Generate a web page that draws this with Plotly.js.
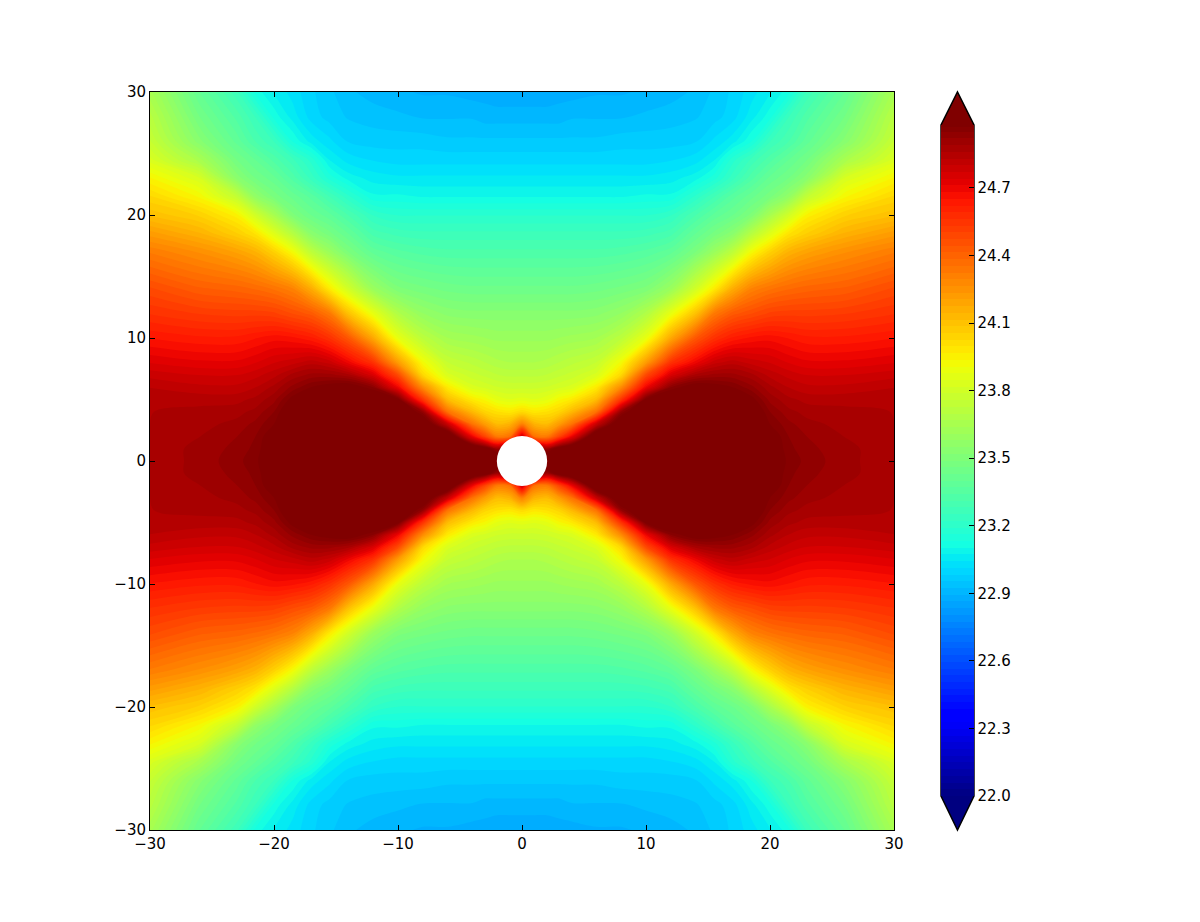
<!DOCTYPE html>
<html><head><meta charset="utf-8"><script src="https://cdn.plot.ly/plotly-3.0.0.min.js"></script>
<style>html,body{margin:0;padding:0;background:#fff}</style></head><body><div id="c" style="width:1200px;height:922px"></div>
<script>
const xVals=[-30,-26,-23,-21.5,-20,-18.5,-17,-15.5,-14,-12,-10,-8,-6,-4,-3,-2,-1,0,1,2,3,4,6,8,10,12,14,15.5,17,18.5,20,21.5,23,26,30];
const yVals=[-30,-28,-26,-24.5,-23,-21.5,-20,-18.5,-17,-14,-12,-10,-8,-7,-6,-5,-4,-3,-2,-1,0,1,2,3,4,5,6,7,8,10,12,14,17,18.5,20,21.5,23,24.5,26,28,30];
const zVals=[
[23.65,23.4,23.26,23.12,23.07,23.03,22.99,22.96,22.93,22.91,22.9,22.89,22.89,22.88,22.88,22.87,22.87,22.87,22.87,22.87,22.88,22.88,22.89,22.89,22.9,22.91,22.93,22.96,22.99,23.03,23.07,23.12,23.26,23.4,23.65],
[23.71,23.46,23.33,23.25,23.12,23.06,23.0,22.97,22.95,22.94,22.93,22.92,22.92,22.92,22.91,22.91,22.91,22.91,22.91,22.91,22.91,22.92,22.92,22.92,22.93,22.94,22.95,22.97,23.0,23.06,23.12,23.25,23.33,23.46,23.71],
[23.76,23.53,23.39,23.31,23.25,23.13,23.06,23.02,22.98,22.97,22.97,22.97,22.96,22.96,22.96,22.96,22.96,22.96,22.96,22.96,22.96,22.96,22.96,22.97,22.97,22.97,22.98,23.02,23.06,23.13,23.25,23.31,23.39,23.53,23.76],
[23.83,23.65,23.46,23.4,23.33,23.26,23.18,23.07,23.03,23.01,23.0,23.0,23.0,23.0,23.0,23.0,23.0,23.0,23.0,23.0,23.0,23.0,23.0,23.0,23.0,23.01,23.03,23.07,23.18,23.26,23.33,23.4,23.46,23.65,23.83],
[23.94,23.82,23.54,23.46,23.41,23.33,23.24,23.15,23.09,23.06,23.05,23.05,23.05,23.05,23.05,23.05,23.05,23.05,23.05,23.05,23.05,23.05,23.05,23.05,23.05,23.06,23.09,23.15,23.24,23.33,23.41,23.46,23.54,23.82,23.94],
[24.03,23.93,23.75,23.57,23.48,23.42,23.36,23.28,23.2,23.11,23.11,23.1,23.1,23.1,23.1,23.1,23.1,23.1,23.1,23.1,23.1,23.1,23.1,23.1,23.11,23.11,23.2,23.28,23.36,23.42,23.48,23.57,23.75,23.93,24.03],
[24.11,24.05,23.95,23.8,23.65,23.5,23.43,23.38,23.31,23.22,23.19,23.19,23.19,23.19,23.19,23.19,23.19,23.19,23.19,23.19,23.19,23.19,23.19,23.19,23.19,23.22,23.31,23.38,23.43,23.5,23.65,23.8,23.95,24.05,24.11],
[24.22,24.15,24.06,23.99,23.85,23.7,23.54,23.47,23.4,23.3,23.27,23.26,23.26,23.26,23.26,23.26,23.26,23.26,23.26,23.26,23.26,23.26,23.26,23.26,23.27,23.3,23.4,23.47,23.54,23.7,23.85,23.99,24.06,24.15,24.22],
[24.32,24.26,24.2,24.15,24.05,23.92,23.73,23.6,23.49,23.39,23.35,23.33,23.32,23.32,23.32,23.32,23.32,23.32,23.32,23.32,23.32,23.32,23.32,23.33,23.35,23.39,23.49,23.6,23.73,23.92,24.05,24.15,24.2,24.26,24.32],
[24.48,24.42,24.4,24.38,24.35,24.3,24.17,23.97,23.8,23.6,23.5,23.47,23.45,23.44,23.44,23.44,23.44,23.44,23.44,23.44,23.44,23.44,23.45,23.47,23.5,23.6,23.8,23.97,24.17,24.3,24.35,24.38,24.4,24.42,24.48],
[24.56,24.53,24.52,24.52,24.51,24.47,24.43,24.33,24.1,23.88,23.68,23.58,23.54,23.53,23.53,23.53,23.53,23.53,23.53,23.53,23.53,23.53,23.54,23.58,23.68,23.88,24.1,24.33,24.43,24.47,24.51,24.52,24.52,24.53,24.56],
[24.65,24.63,24.63,24.65,24.67,24.66,24.63,24.56,24.44,24.18,23.88,23.72,23.64,23.62,23.61,23.6,23.6,23.6,23.6,23.6,23.61,23.62,23.64,23.72,23.88,24.18,24.44,24.56,24.63,24.66,24.67,24.65,24.63,24.63,24.65],
[24.74,24.72,24.72,24.74,24.77,24.79,24.82,24.79,24.7,24.56,24.22,23.92,23.76,23.72,23.7,23.68,23.67,23.67,23.67,23.68,23.7,23.72,23.76,23.92,24.22,24.56,24.7,24.79,24.82,24.79,24.77,24.74,24.72,24.72,24.74],
[24.79,24.77,24.77,24.79,24.82,24.87,24.9,24.9,24.87,24.75,24.48,24.03,23.83,23.77,23.75,23.73,23.72,23.72,23.72,23.73,23.75,23.77,23.83,24.03,24.48,24.75,24.87,24.9,24.9,24.87,24.82,24.79,24.77,24.77,24.79],
[24.83,24.81,24.81,24.83,24.87,24.93,24.98,25.01,25.03,24.95,24.7,24.27,23.97,23.83,23.81,23.79,23.78,23.78,23.78,23.79,23.81,23.83,23.97,24.27,24.7,24.95,25.03,25.01,24.98,24.93,24.87,24.83,24.81,24.81,24.83],
[24.85,24.85,24.85,24.87,24.91,25.0,25.05,25.1,25.15,25.1,25.0,24.55,24.12,23.97,23.93,23.87,23.85,23.86,23.85,23.87,23.93,23.97,24.12,24.55,25.0,25.1,25.15,25.1,25.05,25.0,24.91,24.87,24.85,24.85,24.85],
[24.86,24.87,24.88,24.9,24.95,25.05,25.12,25.2,25.25,25.2,25.12,24.93,24.35,24.13,24.04,24.0,23.98,24.02,23.98,24.0,24.04,24.13,24.35,24.93,25.12,25.2,25.25,25.2,25.12,25.05,24.95,24.9,24.88,24.87,24.86],
[24.86,24.88,24.9,24.93,24.98,25.12,25.2,25.27,25.3,25.3,25.22,25.1,24.8,24.35,24.22,24.12,24.15,24.3,24.15,24.12,24.22,24.35,24.8,25.1,25.22,25.3,25.3,25.27,25.2,25.12,24.98,24.93,24.9,24.88,24.86],
[24.87,24.89,24.92,24.95,25.02,25.17,25.25,25.3,25.35,25.35,25.3,25.22,25.12,24.7,24.5,24.32,24.35,24.8,24.35,24.32,24.5,24.7,25.12,25.22,25.3,25.35,25.35,25.3,25.25,25.17,25.02,24.95,24.92,24.89,24.87],
[24.87,24.9,24.93,24.96,25.03,25.2,25.3,25.35,25.4,25.4,25.35,25.3,25.25,25.12,25.05,24.9,25.1,25.0,25.1,24.9,25.05,25.12,25.25,25.3,25.35,25.4,25.4,25.35,25.3,25.2,25.03,24.96,24.93,24.9,24.87],
[24.87,24.9,24.94,24.97,25.04,25.2,25.3,25.35,25.4,25.4,25.4,25.35,25.3,25.25,25.2,25.2,25.2,25.2,25.2,25.2,25.2,25.25,25.3,25.35,25.4,25.4,25.4,25.35,25.3,25.2,25.04,24.97,24.94,24.9,24.87],
[24.87,24.9,24.93,24.96,25.03,25.2,25.3,25.35,25.4,25.4,25.35,25.3,25.25,25.12,25.05,24.9,25.1,25.0,25.1,24.9,25.05,25.12,25.25,25.3,25.35,25.4,25.4,25.35,25.3,25.2,25.03,24.96,24.93,24.9,24.87],
[24.87,24.89,24.92,24.95,25.02,25.17,25.25,25.3,25.35,25.35,25.3,25.22,25.12,24.7,24.5,24.32,24.35,24.8,24.35,24.32,24.5,24.7,25.12,25.22,25.3,25.35,25.35,25.3,25.25,25.17,25.02,24.95,24.92,24.89,24.87],
[24.86,24.88,24.9,24.93,24.98,25.12,25.2,25.27,25.3,25.3,25.22,25.1,24.8,24.35,24.22,24.12,24.15,24.3,24.15,24.12,24.22,24.35,24.8,25.1,25.22,25.3,25.3,25.27,25.2,25.12,24.98,24.93,24.9,24.88,24.86],
[24.86,24.87,24.88,24.9,24.95,25.05,25.12,25.2,25.25,25.2,25.12,24.93,24.35,24.13,24.04,24.0,23.98,24.02,23.98,24.0,24.04,24.13,24.35,24.93,25.12,25.2,25.25,25.2,25.12,25.05,24.95,24.9,24.88,24.87,24.86],
[24.85,24.85,24.85,24.87,24.91,25.0,25.05,25.1,25.15,25.1,25.0,24.55,24.12,23.97,23.93,23.87,23.85,23.86,23.85,23.87,23.93,23.97,24.12,24.55,25.0,25.1,25.15,25.1,25.05,25.0,24.91,24.87,24.85,24.85,24.85],
[24.83,24.81,24.81,24.83,24.87,24.93,24.98,25.01,25.03,24.95,24.7,24.27,23.97,23.83,23.81,23.79,23.78,23.78,23.78,23.79,23.81,23.83,23.97,24.27,24.7,24.95,25.03,25.01,24.98,24.93,24.87,24.83,24.81,24.81,24.83],
[24.79,24.77,24.77,24.79,24.82,24.87,24.9,24.9,24.87,24.75,24.48,24.03,23.83,23.77,23.75,23.73,23.72,23.72,23.72,23.73,23.75,23.77,23.83,24.03,24.48,24.75,24.87,24.9,24.9,24.87,24.82,24.79,24.77,24.77,24.79],
[24.74,24.72,24.72,24.74,24.77,24.79,24.82,24.79,24.7,24.56,24.22,23.92,23.76,23.72,23.7,23.68,23.67,23.67,23.67,23.68,23.7,23.72,23.76,23.92,24.22,24.56,24.7,24.79,24.82,24.79,24.77,24.74,24.72,24.72,24.74],
[24.65,24.63,24.63,24.65,24.67,24.66,24.63,24.56,24.44,24.18,23.88,23.72,23.64,23.62,23.61,23.6,23.6,23.6,23.6,23.6,23.61,23.62,23.64,23.72,23.88,24.18,24.44,24.56,24.63,24.66,24.67,24.65,24.63,24.63,24.65],
[24.56,24.53,24.52,24.52,24.51,24.47,24.43,24.33,24.1,23.88,23.68,23.58,23.54,23.53,23.53,23.53,23.53,23.53,23.53,23.53,23.53,23.53,23.54,23.58,23.68,23.88,24.1,24.33,24.43,24.47,24.51,24.52,24.52,24.53,24.56],
[24.48,24.42,24.4,24.38,24.35,24.3,24.17,23.97,23.8,23.6,23.5,23.47,23.45,23.44,23.44,23.44,23.44,23.44,23.44,23.44,23.44,23.44,23.45,23.47,23.5,23.6,23.8,23.97,24.17,24.3,24.35,24.38,24.4,24.42,24.48],
[24.32,24.26,24.2,24.15,24.05,23.92,23.73,23.6,23.49,23.39,23.35,23.33,23.32,23.32,23.32,23.32,23.32,23.32,23.32,23.32,23.32,23.32,23.32,23.33,23.35,23.39,23.49,23.6,23.73,23.92,24.05,24.15,24.2,24.26,24.32],
[24.22,24.15,24.06,23.99,23.85,23.7,23.54,23.47,23.4,23.3,23.27,23.26,23.26,23.26,23.26,23.26,23.26,23.26,23.26,23.26,23.26,23.26,23.26,23.26,23.27,23.3,23.4,23.47,23.54,23.7,23.85,23.99,24.06,24.15,24.22],
[24.11,24.05,23.95,23.8,23.65,23.5,23.43,23.38,23.31,23.22,23.19,23.19,23.19,23.19,23.19,23.19,23.19,23.19,23.19,23.19,23.19,23.19,23.19,23.19,23.19,23.22,23.31,23.38,23.43,23.5,23.65,23.8,23.95,24.05,24.11],
[24.03,23.93,23.75,23.57,23.48,23.42,23.36,23.28,23.2,23.11,23.11,23.1,23.1,23.1,23.1,23.1,23.1,23.1,23.1,23.1,23.1,23.1,23.1,23.1,23.11,23.11,23.2,23.28,23.36,23.42,23.48,23.57,23.75,23.93,24.03],
[23.94,23.82,23.54,23.46,23.41,23.33,23.24,23.15,23.09,23.06,23.05,23.05,23.05,23.05,23.05,23.05,23.05,23.05,23.05,23.05,23.05,23.05,23.05,23.05,23.05,23.06,23.09,23.15,23.24,23.33,23.41,23.46,23.54,23.82,23.94],
[23.83,23.65,23.46,23.4,23.33,23.26,23.18,23.07,23.03,23.01,23.0,23.0,23.0,23.0,23.0,23.0,23.0,23.0,23.0,23.0,23.0,23.0,23.0,23.0,23.0,23.01,23.03,23.07,23.18,23.26,23.33,23.4,23.46,23.65,23.83],
[23.76,23.53,23.39,23.31,23.25,23.13,23.06,23.02,22.98,22.97,22.97,22.97,22.96,22.96,22.96,22.96,22.96,22.96,22.96,22.96,22.96,22.96,22.96,22.97,22.97,22.97,22.98,23.02,23.06,23.13,23.25,23.31,23.39,23.53,23.76],
[23.71,23.46,23.33,23.25,23.12,23.06,23.0,22.97,22.95,22.94,22.93,22.92,22.92,22.92,22.91,22.91,22.91,22.91,22.91,22.91,22.91,22.92,22.92,22.92,22.93,22.94,22.95,22.97,23.0,23.06,23.12,23.25,23.33,23.46,23.71],
[23.65,23.4,23.26,23.12,23.07,23.03,22.99,22.96,22.93,22.91,22.9,22.89,22.89,22.88,22.88,22.87,22.87,22.87,22.87,22.87,22.88,22.88,22.89,22.89,22.9,22.91,22.93,22.96,22.99,23.03,23.07,23.12,23.26,23.4,23.65]];
const cbTicks=[22.0,22.3,22.6,22.9,23.2,23.5,23.8,24.1,24.4,24.7];
const jet=[[0,'rgb(0,0,128)'],[0.11,'rgb(0,0,255)'],[0.125,'rgb(0,0,255)'],[0.34,'rgb(0,219,255)'],[0.35,'rgb(0,230,247)'],[0.375,'rgb(21,255,226)'],[0.64,'rgb(238,255,8)'],[0.65,'rgb(247,246,0)'],[0.66,'rgb(255,236,0)'],[0.89,'rgb(255,19,0)'],[0.91,'rgb(232,0,0)'],[1,'rgb(128,0,0)']];
const font={family:'DejaVu Sans',size:15,color:'#000'};
const ax={range:[-30,30],dtick:10,tick0:0,ticks:'inside',ticklen:5,tickwidth:1,tickcolor:'#000',mirror:'ticks',showline:true,linecolor:'#000',linewidth:1,zeroline:false,showgrid:false,tickfont:font};
Plotly.newPlot('c',[{type:'contour',x:xVals,y:yVals,z:zVals,colorscale:jet,zmin:22,zmax:24.98,zauto:false,autocontour:false,
contours:{start:22,end:24.981,size:0.0298,coloring:'fill',showlines:false},line:{width:0},
colorbar:{x:1.0632,xanchor:'left',xpad:0,ypad:0,y:0.5008,yanchor:'middle',len:0.9092,lenmode:'fraction',thickness:33,thicknessmode:'pixels',tickmode:'array',tickvals:cbTicks,ticktext:cbTicks.map(v=>v.toFixed(1)),ticks:'inside',ticklen:5,tickcolor:'#000',tickwidth:1,outlinewidth:0,tickfont:font}}],
{width:1200,height:922,margin:{l:150,r:306,t:92,b:92},paper_bgcolor:'#fff',plot_bgcolor:'#fff',showlegend:false,
xaxis:{...ax},yaxis:{...ax},
shapes:[
{type:'circle',xref:'x',yref:'y',x0:-2.03,x1:2.03,y0:-2.03,y1:2.03,fillcolor:'#fff',line:{width:0},layer:'above'},
{type:'path',xref:'paper',yref:'paper',path:'M1.0632,0.9553 L1.0853,1 L1.1075,0.9553 Z',fillcolor:'#800000',opacity:1,line:{width:0}},
{type:'path',xref:'paper',yref:'paper',path:'M1.0632,0.0461 L1.0853,0 L1.1075,0.0461 Z',fillcolor:'#000080',opacity:1,line:{width:0}},
{type:'path',xref:'paper',yref:'paper',path:'M1.0632,0.0461 L1.0632,0.9553 L1.0853,1 L1.1075,0.9553 L1.1075,0.0461 L1.0853,0 Z',fillcolor:'rgba(0,0,0,0)',line:{color:'#000',width:1.5}}
]},{displayModeBar:false,staticPlot:true});
</script></body></html>
